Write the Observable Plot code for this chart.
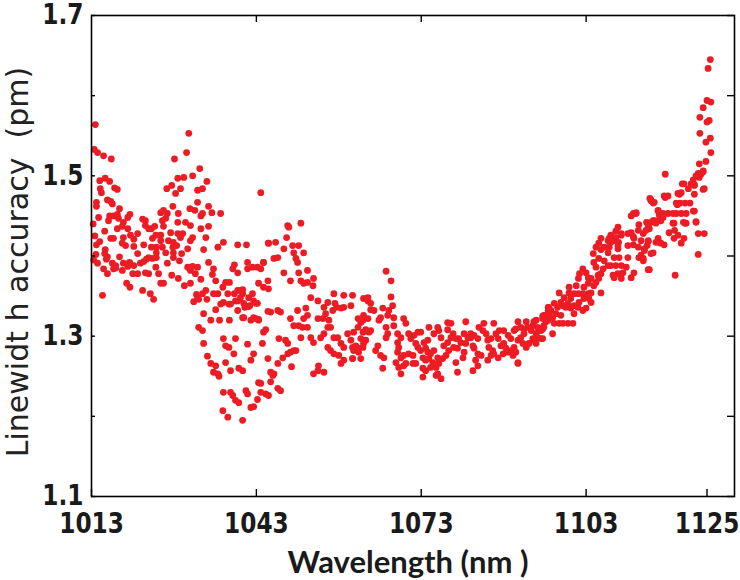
<!DOCTYPE html>
<html><head><meta charset="utf-8">
<script src="https://cdn.jsdelivr.net/npm/d3@7"></script>
<script src="https://cdn.jsdelivr.net/npm/@observablehq/plot@0.6"></script>
<style>body{margin:0;background:#fff}</style>
</head><body><div id="chart"></div>
<script>
const xTicks=[1013,1043,1073,1103,1125];
const xTopTicks=[1043,1073,1103];
const yTicks=[1.1,1.2,1.3,1.4,1.5,1.6,1.7];
const yLabelTicks=[1.1,1.3,1.5,1.7];
const xTitle="Wavelength (nm )";
const yTitle="Linewidt h accuracy \u00a0(pm)";

// [wavelength (nm), linewidth accuracy (pm)]
const segment1013=[[1013.7,1.564],[1013.5,1.533],[1014.1,1.529],[1015.2,1.525],[1016.6,1.521],
[1014.5,1.494],[1015.5,1.497],[1016.3,1.493],[1014.6,1.484],[1014.8,1.479],[1017.2,1.485],[1017.7,1.483],
[1013.9,1.467],[1013.9,1.462],[1015.9,1.470],[1016.5,1.468],[1016.8,1.465],[1018.1,1.459],
[1014.3,1.448],[1016.3,1.450],[1017.0,1.450],[1017.7,1.452],[1019.6,1.448],[1020.0,1.452],[1016.1,1.444],[1017.9,1.447],[1018.8,1.442],[1022.3,1.446],[1022.8,1.444],
[1025.6,1.454],[1026.1,1.457],[1027.8,1.462],[1026.8,1.453],[1028.8,1.453],[1030.9,1.459],[1031.8,1.457],[1032.9,1.450],[1034.3,1.462],[1034.9,1.454],[1036.5,1.453],
[1026.7,1.484],[1027.6,1.488],[1029.2,1.484],[1028.3,1.478],[1028.7,1.497],[1029.8,1.498],[1031.4,1.500],[1032.3,1.482],[1033.2,1.484],[1034.0,1.493],[1032.3,1.467],
[1028.1,1.521],[1030.7,1.553],[1030.3,1.529],[1032.7,1.509],
[1015.4,1.431],[1017.7,1.434],[1018.6,1.437],[1019.6,1.434],[1016.5,1.422],[1017.0,1.422],[1018.8,1.423],[1020.1,1.426],[1021.4,1.428],[1020.7,1.421],[1022.5,1.414],[1013.9,1.414],[1014.5,1.418],[1018.6,1.416],[1019.2,1.413],[1020.7,1.412],
[1022.8,1.438],[1023.4,1.434],[1023.9,1.434],[1024.5,1.437],[1024.1,1.422],[1024.7,1.426],[1025.6,1.426],[1026.1,1.437],[1027.4,1.429],[1028.7,1.428],[1029.6,1.428],[1029.2,1.423],[1030.5,1.409],[1031.4,1.423],
[1027.0,1.419],[1027.9,1.417],[1028.5,1.413],[1027.8,1.411],[1028.7,1.442],[1025.9,1.444],[1026.5,1.447],[1030.1,1.442],[1031.0,1.438],[1033.2,1.453],
[1025.6,1.419],[1025.9,1.411],[1024.8,1.411],[1023.9,1.411],[1026.5,1.404],[1027.9,1.404],[1031.0,1.419],[1033.4,1.408],
[1015.5,1.408],[1015.4,1.403],[1015.9,1.399],[1015.7,1.396],[1014.1,1.391],[1016.8,1.391],[1017.4,1.388],[1017.0,1.384],[1018.8,1.391],[1018.1,1.399],[1020.0,1.391],[1020.7,1.388],[1019.9,1.392],[1021.9,1.391],[1022.5,1.393],[1023.0,1.396],[1023.4,1.398],[1024.1,1.397],[1024.8,1.398],[1021.4,1.403],[1024.8,1.404],
[1015.2,1.384],[1015.9,1.378],[1017.4,1.385],[1019.6,1.387],[1020.5,1.378],[1021.4,1.378],[1018.6,1.382],[1019.4,1.366],[1020.0,1.361],[1022.3,1.357],[1022.8,1.379],[1023.4,1.378],[1023.7,1.353],[1024.3,1.346],[1024.7,1.386],[1025.2,1.378],[1025.6,1.366],[1026.1,1.366],[1026.8,1.391],[1027.6,1.376],[1027.9,1.398],[1029.0,1.394],[1029.4,1.403],[1028.8,1.372],[1029.9,1.363],[1030.5,1.386],[1031.0,1.382],[1031.4,1.387],[1032.3,1.386],[1031.9,1.378],[1032.9,1.371],[1031.0,1.366],[1031.6,1.343],[1032.5,1.346],[1032.1,1.352],[1033.2,1.353],[1033.8,1.357],[1034.3,1.392],[1035.2,1.384],[1035.0,1.377],[1035.6,1.369],[1036.0,1.353],[1035.6,1.333],[1015.0,1.351],[1036.0,1.411],[1033.8,1.423],[1032.9,1.434],[1034.3,1.437],
[1034.7,1.320],[1032.3,1.348],[1033.4,1.328],[1034.0,1.346],[1035.2,1.353],[1013.3,1.440],[1013.6,1.425],[1013.4,1.395],[1013.8,1.402],
[1032.5,1.311],[1033.2,1.307],[1033.4,1.291],[1034.1,1.275],[1034.7,1.266],[1035.6,1.263],[1035.2,1.255]];

const segment1036=[[1037.0,1.417],[1037.4,1.367],[1038.1,1.367],[1036.9,1.361],[1039.6,1.357],[1040.5,1.358],[1040.5,1.353],[1041.4,1.392],[1039.0,1.389],[1038.7,1.384],[1039.6,1.379],[1041.4,1.384],[1042.3,1.386],[1043.2,1.386],[1043.8,1.384],[1044.3,1.392],[1045.1,1.369],[1044.3,1.361],[1045.2,1.359],[1043.4,1.366],[1042.5,1.344],[1043.2,1.341],[1041.2,1.414],[1039.6,1.414],[1045.2,1.416],[1043.8,1.479],
[1036.3,1.320],[1038.1,1.320],[1039.6,1.332],[1040.9,1.336],[1041.8,1.338],[1042.5,1.323],[1043.4,1.321],[1045.1,1.331],[1040.5,1.323],[1041.6,1.348],[1042.3,1.353],[1040.1,1.348],[1039.0,1.353],[1037.8,1.353],[1037.0,1.342],[1038.3,1.340],[1039.2,1.344],
[1036.0,1.253],[1036.2,1.250],[1037.0,1.230],[1038.3,1.230],[1038.7,1.226],[1039.2,1.220],[1039.8,1.217],[1036.9,1.207],[1037.8,1.199],[1040.5,1.195],[1042.0,1.211],[1042.5,1.212],[1043.2,1.221],[1041.1,1.232],[1041.4,1.228],[1043.4,1.242],[1043.8,1.241],[1044.7,1.228],[1045.2,1.226],[1043.8,1.230],[1045.6,1.255],[1046.0,1.251],[1046.2,1.253],[1045.6,1.243],[1046.9,1.235],[1047.4,1.232],[1037.4,1.267],[1039.8,1.260],[1040.5,1.257],[1038.3,1.257],[1042.0,1.270],[1042.5,1.278],[1045.1,1.272],[1046.9,1.266],[1047.8,1.273],[1048.7,1.278],[1049.8,1.282],[1049.4,1.262],[1038.9,1.278],[1038.0,1.286],[1041.4,1.290],[1044.1,1.291],[1047.1,1.297],[1048.3,1.295],[1048.7,1.291],[1037.0,1.297],[1039.2,1.297],[1037.4,1.288],[1044.3,1.305],[1044.7,1.308],[1042.0,1.320],[1042.9,1.322],[1043.4,1.320],[1045.6,1.330],[1046.9,1.332],[1047.4,1.330],[1040.7,1.323],[1036.5,1.340],[1038.0,1.340],[1039.6,1.344],[1040.1,1.357],[1040.7,1.341],[1041.6,1.337],[1042.9,1.341],
[1048.7,1.438],[1048.9,1.436],[1051.1,1.441],[1048.5,1.423],[1045.2,1.416],[1046.5,1.417],[1048.0,1.409],[1049.6,1.413],[1050.7,1.413],[1049.8,1.404],[1050.2,1.397],[1050.5,1.392],[1051.6,1.404],[1044.3,1.392],[1046.2,1.397],[1046.9,1.398],[1048.0,1.379],[1049.2,1.369],[1050.7,1.379],[1052.3,1.382],[1051.1,1.369],[1051.6,1.366],[1052.3,1.367],[1053.3,1.363],[1053.4,1.372],[1052.9,1.348],[1054.2,1.344],[1052.0,1.335],[1050.5,1.332],[1051.6,1.322],[1052.3,1.326],[1049.2,1.322],[1049.8,1.313],[1050.7,1.313],[1051.4,1.311],[1052.3,1.311],[1052.9,1.298],[1051.1,1.298],[1053.4,1.292],[1053.4,1.253],[1054.2,1.257],[1055.3,1.255],[1054.3,1.263],[1049.2,1.280],[1050.2,1.282],[1055.1,1.322],[1055.6,1.328],[1054.2,1.322],[1055.3,1.336],[1054.7,1.298],[1055.3,1.303]];

const segment1056=[[1056.2,1.320],[1056.0,1.311],[1056.5,1.311],[1056.9,1.332],[1057.3,1.341],[1057.6,1.336],[1058.4,1.335],[1058.9,1.336],[1060.2,1.338],[1057.1,1.353],[1058.9,1.351],[1060.5,1.351],[1056.0,1.342],[1057.1,1.298],[1057.8,1.298],[1058.4,1.291],[1060.2,1.295],[1060.7,1.305],[1061.5,1.311],[1062.4,1.320],[1063.3,1.322],[1062.5,1.326],[1063.5,1.305],[1062.9,1.295],[1062.4,1.286],[1060.5,1.286],[1059.6,1.303],[1058.9,1.286],[1056.0,1.286],[1056.5,1.282],[1057.1,1.278],[1058.0,1.276],[1058.9,1.270],[1060.5,1.272],[1062.0,1.272],[1061.6,1.280],[1058.4,1.266],[1062.5,1.347],[1063.3,1.348],
[1066.6,1.381],[1067.5,1.369],[1067.5,1.349],[1063.3,1.344],[1063.8,1.341],[1067.8,1.338],[1067.1,1.332],[1063.8,1.333],[1064.4,1.332],[1066.0,1.335],[1066.9,1.326],[1068.0,1.323],[1069.8,1.322],[1061.5,1.322],[1062.0,1.317],[1065.6,1.323],[1065.3,1.320],[1070.2,1.316],[1066.6,1.311],[1068.0,1.313],[1062.9,1.308],[1062.4,1.305],[1063.8,1.307],[1066.6,1.298],[1066.9,1.303],[1068.7,1.303],[1069.3,1.298],[1070.7,1.303],[1071.1,1.297],[1071.7,1.301],[1072.4,1.305],[1072.9,1.305],[1062.0,1.297],[1062.5,1.291],[1061.1,1.288],[1060.7,1.282],[1061.5,1.285],[1065.1,1.288],[1064.7,1.282],[1065.6,1.276],[1066.2,1.273],[1060.5,1.272],
[1068.7,1.292],[1068.9,1.286],[1068.7,1.280],[1069.3,1.273],[1069.8,1.276],[1070.7,1.278],[1071.5,1.276],[1072.0,1.291],[1072.4,1.286],[1072.9,1.282],[1073.5,1.292],[1074.2,1.295],[1073.8,1.285],[1074.2,1.280],[1074.7,1.278],[1075.3,1.282],[1073.3,1.273],[1073.8,1.270],[1074.4,1.272],[1075.1,1.267],[1076.0,1.273],[1076.2,1.266],[1075.7,1.261],[1074.7,1.261],[1073.3,1.260],[1073.8,1.257],[1076.0,1.253],[1076.6,1.247],[1075.7,1.251],[1073.3,1.249],[1071.5,1.266],[1072.0,1.266],[1069.8,1.263],[1070.2,1.266],[1068.9,1.261],[1069.3,1.253],[1068.4,1.267],[1066.0,1.260],
[1076.9,1.272],[1077.5,1.276],[1078.0,1.282],[1077.1,1.288],[1077.8,1.292],[1078.4,1.298],[1078.8,1.303],[1077.8,1.308],[1078.4,1.316],[1078.9,1.286],[1079.6,1.285],[1079.3,1.267],[1079.6,1.255],[1080.6,1.273],[1080.8,1.280],[1081.1,1.291],[1080.2,1.292],[1080.8,1.303],[1081.5,1.298],[1081.1,1.318],[1082.0,1.298],[1082.4,1.288],[1082.6,1.285],[1083.3,1.278],[1082.9,1.270],[1083.9,1.276],[1083.3,1.263],[1082.4,1.257],[1082.0,1.303],[1082.6,1.301],[1083.3,1.297],[1083.5,1.311],[1084.2,1.307],[1084.4,1.316],[1084.8,1.303],[1085.1,1.295],[1085.7,1.297],[1086.2,1.316],[1086.6,1.303],[1087.0,1.297],[1087.2,1.307],[1085.3,1.286],[1086.0,1.282],[1086.2,1.278],[1087.0,1.273],[1085.7,1.276],[1085.1,1.270],[1087.5,1.288],[1088.0,1.291],[1088.4,1.285],[1088.8,1.280],[1089.3,1.282],[1089.9,1.286],[1090.2,1.280],[1089.7,1.276],[1090.6,1.267],[1087.9,1.278],[1088.0,1.307],[1088.8,1.301],[1089.3,1.297],[1089.9,1.307],[1090.2,1.309],[1090.6,1.295],[1091.1,1.298],[1091.7,1.303],[1091.5,1.291],[1092.1,1.286],[1092.6,1.291],[1093.3,1.297],[1093.5,1.295],[1093.9,1.303],[1093.0,1.307],[1092.4,1.311],[1093.3,1.313],[1094.2,1.311],[1094.4,1.307],[1093.9,1.320],[1093.5,1.318],[1092.1,1.318],[1090.6,1.318],[1091.1,1.311],[1091.7,1.309],[1094.2,1.298],[1094.8,1.297],[1093.9,1.291],[1090.6,1.266],[1074.4,1.311],[1077.8,1.317],[1076.0,1.311],[1076.2,1.307],[1075.3,1.303],[1076.6,1.298],[1079.3,1.297],[1079.8,1.297]];

const segment1095=[[1095.1,1.309],[1095.3,1.313],[1096.1,1.320],[1095.7,1.326],[1095.1,1.325],[1096.1,1.332],[1096.2,1.336],
[1125.7,1.529],[1123.6,1.515],[1124.8,1.518],[1123.4,1.503],[1123.9,1.502],[1124.3,1.505],[1117.4,1.502],[1122.5,1.495],[1122.1,1.490],[1122.7,1.488],[1120.8,1.490],[1120.3,1.479],[1121.6,1.484],[1124.5,1.484],[1122.7,1.477],[1120.0,1.477],[1119.6,1.464],[1120.1,1.466],[1121.0,1.466],[1121.9,1.466],[1122.5,1.456],[1122.7,1.456],[1117.9,1.475],[1117.4,1.473],[1114.8,1.470],[1115.4,1.467],[1115.2,1.466],[1116.1,1.456],[1116.3,1.451],[1117.0,1.453],[1117.9,1.453],[1118.8,1.453],[1119.4,1.453],[1120.3,1.453],[1119.0,1.441],[1118.1,1.429],[1121.2,1.441],[1120.7,1.442],[1123.0,1.442],[1123.4,1.428],[1124.5,1.428],[1120.8,1.422],[1120.3,1.416],[1119.0,1.422],[1123.4,1.402],[1119.2,1.376],
[1111.2,1.450],[1112.1,1.453],[1112.6,1.439],[1114.3,1.438],[1114.8,1.442],[1115.4,1.444],[1116.1,1.444],[1116.6,1.444],[1117.0,1.448],[1115.7,1.441],[1114.5,1.434],[1113.9,1.432],[1113.4,1.428],[1116.1,1.422],[1116.3,1.417],[1116.6,1.416],[1117.2,1.414],[1108.4,1.431],[1107.9,1.419],[1107.5,1.417],[1109.4,1.428],[1110.6,1.428],[1111.2,1.429],[1111.6,1.424],[1111.7,1.422],[1112.5,1.432],[1113.0,1.419],[1114.3,1.419],[1108.9,1.417],[1110.6,1.413],[1111.6,1.414],[1112.5,1.411],[1108.8,1.413],[1107.2,1.411],[1105.7,1.408],[1106.3,1.411],[1107.0,1.404],[1110.6,1.398],[1108.8,1.409],[1114.1,1.413],[1113.6,1.409],[1113.0,1.401],[1113.4,1.397],[1112.6,1.398],[1114.8,1.403],[1114.3,1.383],
[1108.1,1.398],[1105.3,1.397],[1106.3,1.394],[1107.0,1.388],[1107.5,1.388],[1108.4,1.388],[1109.4,1.388],[1109.0,1.398],[1110.3,1.386],[1109.7,1.379],[1108.8,1.378],[1107.9,1.376],[1106.1,1.384],[1104.8,1.386],[1104.4,1.392],[1104.3,1.403],[1105.7,1.378],[1105.2,1.376],[1108.1,1.373],[1109.4,1.372],[1111.2,1.373],[1111.7,1.379],[1102.4,1.384],[1101.8,1.378],[1101.6,1.372],[1103.0,1.379],[1103.4,1.373],[1103.9,1.372],[1105.3,1.372],[1104.8,1.367],[1103.4,1.366],[1102.6,1.361],[1101.2,1.363],[1099.9,1.361],[1104.4,1.363],[1105.7,1.354],[1103.9,1.354],[1103.4,1.353],[1102.4,1.353],[1101.6,1.353],[1100.8,1.353],[1099.9,1.354],[1098.1,1.354],
[1103.5,1.347],[1103.9,1.342],[1102.6,1.347],[1101.7,1.342],[1100.2,1.347],[1099.0,1.348],[1099.7,1.341],[1100.8,1.338],[1102.4,1.332],[1103.0,1.335],[1101.5,1.336],[1098.4,1.342],[1098.8,1.338],[1099.3,1.336],[1100.2,1.335],[1100.8,1.328],[1097.2,1.341],[1097.8,1.336],[1096.1,1.336],[1096.6,1.332],[1097.5,1.328],[1096.9,1.323],[1096.3,1.328],[1095.3,1.326],[1095.1,1.322],[1095.7,1.318],[1095.3,1.311],[1097.2,1.316],[1098.1,1.316],[1098.8,1.316],[1099.7,1.316],[1100.6,1.316],[1096.9,1.303],[1095.1,1.297],[1094.8,1.307],[1098.4,1.326],
[1108.8,1.436],[1107.0,1.419],[1107.2,1.422],[1107.5,1.426],[1105.7,1.422],[1105.3,1.416],[1104.8,1.411],[1108.4,1.423],[1109.4,1.426],[1111.6,1.453],[1112.1,1.454],[1114.8,1.469],
[1125.6,1.645],[1125.2,1.634],[1125.0,1.594],[1125.7,1.592],[1124.3,1.585],[1123.7,1.573],[1125.0,1.567],[1125.4,1.569],[1123.7,1.553],[1124.8,1.542],[1125.6,1.547],[1124.3,1.506],[1123.0,1.500],[1123.6,1.498],[1120.5,1.490],[1122.7,1.489],[1124.3,1.483],[1117.2,1.475],[1119.7,1.478],[1114.6,1.472],[1119.4,1.466],[1116.1,1.457],[1121.2,1.453],[1118.8,1.441],[1121.0,1.441],[1123.0,1.443],[1114.0,1.442],[1115.2,1.444],[1119.1,1.432],[1119.7,1.426],[1114.3,1.418],[1115.7,1.417],[1113.6,1.407],[1115.2,1.404],[1113.4,1.394],[1114.5,1.383]];

const samples=[...segment1013,...segment1036,...segment1056,...segment1095]
  .map(([wavelength,accuracy])=>({wavelength,accuracy}));

const W=740,H=580,mL=91,mR=6,mT=15,mB=84;
const iw=W-mL-mR, ih=H-mT-mB;
const ink="#1a1a1a", red="#ed1c24";
const tickFont="DejaVu Sans";

const chart=Plot.plot({
  width:W,height:H,marginLeft:mL,marginRight:mR,marginTop:mT,marginBottom:mB,
  x:{domain:[1013,1130]},
  y:{domain:[1.1,1.7]},
  style:{background:"#fff"},
  marks:[
    Plot.dot(samples,{x:"wavelength",y:"accuracy",r:3.4,fill:red,stroke:"none"}),
    Plot.frame({stroke:"#000",strokeWidth:1.6}),
    Plot.tickX(xTicks,{x:d=>d,insetTop:ih-7,stroke:"#000",strokeWidth:1.4}),
    Plot.tickX(xTopTicks,{x:d=>d,insetBottom:ih-7,stroke:"#000",strokeWidth:1.4}),
    Plot.tickY(yTicks,{y:d=>d,insetRight:iw-4,stroke:"#000",strokeWidth:1.4}),
    Plot.tickY(yTicks,{y:d=>d,insetLeft:iw-7,stroke:"#000",strokeWidth:1.4}),
    Plot.axisX({ticks:xTicks,tickSize:0,tickPadding:17,label:null,tickFormat:d=>String(d),fontSize:28,fontWeight:"bold",fontFamily:tickFont,fill:ink}),
    Plot.axisY({ticks:yLabelTicks,tickSize:0,tickPadding:8,label:null,tickFormat:d=>d.toFixed(1),fontSize:28,fontWeight:"bold",fontFamily:tickFont,fill:ink}),
    Plot.text([xTitle],{text:d=>d,frameAnchor:"bottom",textAnchor:"middle",dx:-5,dy:76,lineAnchor:"bottom",fontFamily:"Lato",fontWeight:"bold",fontSize:31,fill:ink,ariaLabel:"x-title"}),
    Plot.text([yTitle],{text:d=>d,frameAnchor:"left",textAnchor:"middle",rotate:-90,dx:-64,dy:6,lineAnchor:"bottom",fontFamily:tickFont,fontSize:30,fill:"#222",ariaLabel:"y-title"})
  ]
});
document.getElementById("chart").appendChild(chart);

// narrow the DejaVu glyphs to the condensed look of the reference lettering,
// anchoring explicitly at the start so the squeezed text stays centred / right-aligned
function squeeze(t, length, anchor){
  const x0=parseFloat(t.getAttribute("x"))||0;
  const shift=anchor==="middle"?-length/2:anchor==="end"?-length:0;
  t.setAttribute("text-anchor","start");
  t.setAttribute("x",(x0+shift).toFixed(1));
  t.setAttribute("textLength",length.toFixed(1));
  t.setAttribute("lengthAdjust","spacingAndGlyphs");
}
chart.querySelectorAll('g[aria-label="x-axis tick label"] text').forEach(t=>squeeze(t,t.getComputedTextLength()*0.83,"middle"));
chart.querySelectorAll('g[aria-label="y-axis tick label"] text').forEach(t=>squeeze(t,t.getComputedTextLength()*0.83,"end"));

// fit the rotated y title to the span it covers in the reference (y 87 to 437)
const yt=chart.querySelector('g[aria-label="y-title"] text');
if(yt){
  squeeze(yt,350,"middle");
  const top=87,bottom=437,mid=(top+bottom)/2;
  for(let i=0;i<3;i++){
    const s=chart.getBoundingClientRect(), r=yt.getBoundingClientRect();
    const len=r.height, c=(r.top+r.bottom)/2-s.top;
    if(!(len>0)) break;
    const L=parseFloat(yt.getAttribute("textLength"));
    const nL=L*(bottom-top)/len;
    const x=parseFloat(yt.getAttribute("x"))||0;
    yt.setAttribute("textLength",nL.toFixed(1));
    yt.setAttribute("x",(x+(c-mid)-(nL-L)/2).toFixed(1));
  }
}
</script>
</body></html>
